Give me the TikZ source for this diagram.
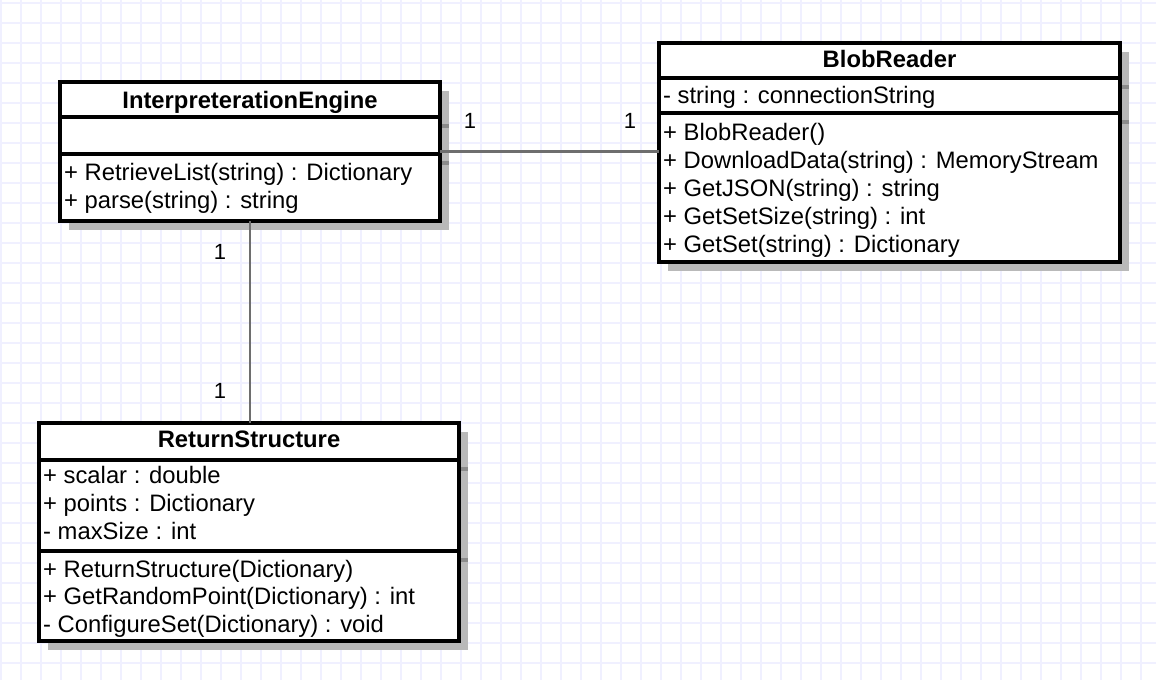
\documentclass[tikz,border=0pt]{standalone}
\usepackage{fontspec}
\setmainfont{Liberation Sans}
\definecolor{gridc}{RGB}{240,240,255}
\definecolor{shadowc}{RGB}{185,185,185}
\definecolor{shadowd}{RGB}{140,140,140}
\definecolor{assocc}{RGB}{110,110,110}
\begin{document}
\begin{tikzpicture}[x=1pt,y=-1pt,
  gridline/.style={draw=gridc, line width=1.1pt},
  umlbox/.style={draw=black, line width=3.5pt, fill=white, rectangle, inner sep=0pt, outer sep=0pt, anchor=north west},
  sepline/.style={draw=black, line width=3.5pt},
  shadowbox/.style={fill=shadowc, draw=none},
  shadowsep/.style={draw=shadowd, line width=3.5pt},
  title/.style={anchor=base, inner sep=0pt, font=\fontsize{23.8}{28}\selectfont\bfseries},
  member/.style={anchor=base west, inner sep=0pt, font=\fontsize{23.8}{28}\selectfont},
  mult/.style={inner sep=0pt, font=\fontsize{22}{26}\selectfont},
  assoc/.style={draw=assocc, line width=2.2pt}]
\useasboundingbox (0,0) rectangle (1156,680);
\fill[white] (0,0) rectangle (1156,680);
\foreach \i in {0,...,57} \draw[gridline] (1+20*\i,0) -- (1+20*\i,680);
\foreach \j in {0,...,33} \draw[gridline] (0,3+20*\j) -- (1156,3+20*\j);

% shadows
\fill[shadowbox] (69,91) rectangle (449,230);
\draw[shadowsep] (69,126) -- (449,126);
\draw[shadowsep] (69,163) -- (449,163);
\fill[shadowbox] (668,52) rectangle (1129,271);
\draw[shadowsep] (668,87) -- (1129,87);
\draw[shadowsep] (668,122) -- (1129,122);
\fill[shadowbox] (48,432) rectangle (468,650);
\draw[shadowsep] (48,469) -- (468,469);
\draw[shadowsep] (48,560) -- (468,560);

% InterpreterationEngine
\node[umlbox, minimum width=380pt, minimum height=139pt] (ie) at (60,82) {};
\draw[sepline] ([yshift=-35pt]ie.north west) -- ([yshift=-35pt]ie.north east);
\draw[sepline] ([yshift=-72pt]ie.north west) -- ([yshift=-72pt]ie.north east);
\node[title] (ie-t) at (250,108) {InterpreterationEngine};
\node[member] (ie-m1) at (64,180) {+ RetrieveList(string) : Dictionary};
\node[member] (ie-m2) at (64,208) {+ parse(string) : string};

% BlobReader
\node[umlbox, minimum width=461pt, minimum height=219pt] (br) at (659,43) {};
\draw[sepline] ([yshift=-35pt]br.north west) -- ([yshift=-35pt]br.north east);
\draw[sepline] ([yshift=-70pt]br.north west) -- ([yshift=-70pt]br.north east);
\node[title] (br-t) at (889.5,67) {BlobReader};
\node[member] (br-a1) at (663,103) {- string : connectionString};
\node[member] (br-m1) at (663,140) {+ BlobReader()};
\node[member] (br-m2) at (663,168) {+ DownloadData(string) : MemoryStream};
\node[member] (br-m3) at (663,196) {+ GetJSON(string) : string};
\node[member] (br-m4) at (663,224) {+ GetSetSize(string) : int};
\node[member] (br-m5) at (663,252) {+ GetSet(string) : Dictionary};

% ReturnStructure
\node[umlbox, minimum width=420pt, minimum height=218pt] (rs) at (39,423) {};
\draw[sepline] ([yshift=-37pt]rs.north west) -- ([yshift=-37pt]rs.north east);
\draw[sepline] ([yshift=-128pt]rs.north west) -- ([yshift=-128pt]rs.north east);
\node[title] (rs-t) at (249,447) {ReturnStructure};
\node[member] (rs-a1) at (43,483) {+ scalar : double};
\node[member] (rs-a2) at (43,511) {+ points : Dictionary};
\node[member] (rs-a3) at (43,539) {- maxSize : int};
\node[member] (rs-m1) at (43,577) {+ ReturnStructure(Dictionary)};
\node[member] (rs-m2) at (43,604) {+ GetRandomPoint(Dictionary) : int};
\node[member] (rs-m3) at (43,632) {- ConfigureSet(Dictionary) : void};

% associations
\draw[assoc] (ie.east) -- (ie.east -| br.west);
\draw[assoc] (ie.south) -- (ie.south |- rs.north);

% multiplicities
\node[mult] (m1) at (470,121) {1};
\node[mult] (m2) at (630,121) {1};
\node[mult] (m3) at (220,252) {1};
\node[mult] (m4) at (220,391) {1};
\end{tikzpicture}
\end{document}
